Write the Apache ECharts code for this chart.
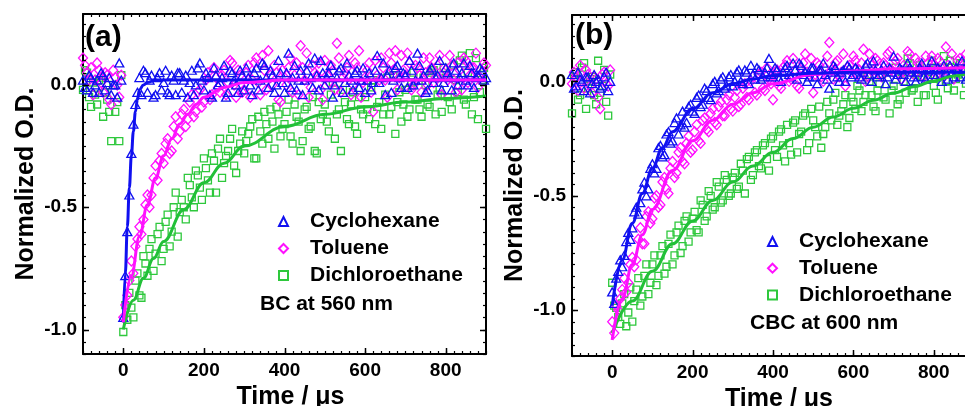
<!DOCTYPE html>
<html><head><meta charset="utf-8">
<script src="https://cdn.jsdelivr.net/npm/echarts@6/dist/echarts.min.js"></script>
<style>html,body{margin:0;padding:0;background:#fff}#c{width:965px;height:406px}</style>
</head><body><div id="c"></div>
<script>
// ---------- data ----------
const times = [-100,-90,-80,-70,-60,-50,-40,-30,-20,-10,
  0,10,20,30,40,50,60,70,80,90,100,110,120,130,140,150,160,170,180,190,
  200,210,220,230,240,250,260,270,280,290,300,310,320,330,340,350,360,370,380,390,
  400,410,420,430,440,450,460,470,480,490,500,510,520,530,540,550,560,570,580,590,
  600,610,620,630,640,650,660,670,680,690,700,710,720,730,740,750,760,770,780,790,
  800,810,820,830,840,850,860,870,880,890,900];
const timesMid = [-95,-85,-75,-65,-55,-45,-35,-25,-15,-5,
  5,15,25,35,45,55,65,75,85,95,105,115,125,135,145,155,165,175,185,195,
  205,215,225,235,245,255,265,275,285,295,305,315,325,335,345,355,365,375,385,395,
  405,415,425,435,445,455,465,475,485,495,505,515,525,535,545,555,565,575,585,595,
  605,615,625,635,645,655,665,675,685,695,705,715,725,735,745,755,765,775,785,795,
  805,815,825,835,845,855,865,875,885,895];

const xTickLabels = [0,200,400,600,800];
const yTickLabels = [-1.0,-0.5,0.0];
const seriesNames = ['Cyclohexane','Toluene','Dichloroethane'];

// Panel (a): BC at 560 nm
const cycA = [0.02,-0.02,0.03,0.00,-0.03,0.04,0.01,-0.04,0.00,0.09,
  -0.95,-0.60,-0.28,-0.08,0.03,0.06,-0.03,0.04,-0.04,0.05,
  0.01,-0.03,0.04,-0.04,0.05,0.02,-0.05,0.06,0.00,0.09,
  -0.02,0.03,-0.05,0.04,0.01,0.08,-0.03,0.05,0.00,0.06,
  -0.02,0.03,-0.04,0.07,0.02,0.08,-0.01,0.04,0.00,0.05,
  -0.03,0.13,0.03,-0.02,0.06,0.02,0.09,-0.01,0.04,0.10,
  0.00,0.05,-0.05,0.03,0.07,0.01,0.04,-0.02,0.06,0.02,
  -0.03,0.05,0.01,0.12,0.03,-0.04,0.06,0.02,0.08,-0.01,
  0.04,0.10,0.00,0.13,0.02,-0.03,0.06,0.01,0.04,-0.02,
  0.07,0.03,0.09,0.00,0.05,0.02,0.08,-0.01,0.04,0.06,
  0.03];
const cycA2 = [-0.01,0.04,-0.03,0.02,0.05,-0.02,0.03,0.00,-0.05,0.02,
  -0.78,-0.45,-0.16,-0.03,-0.04,0.05,0.02,-0.05,0.03,-0.02,
  0.06,-0.04,0.02,0.05,-0.03,0.04,0.01,-0.04,0.07,0.02,
  0.05,-0.04,0.07,0.00,0.03,-0.05,0.06,0.02,-0.03,0.04,
  0.07,0.00,0.05,-0.02,0.09,0.03,0.06,-0.03,0.10,0.01,
  0.05,-0.01,0.08,0.02,-0.04,0.06,0.03,0.11,-0.02,0.05,
  0.03,0.08,0.00,0.06,-0.03,0.09,0.02,0.05,-0.01,0.07,
  0.02,-0.02,0.06,0.01,0.09,0.04,-0.03,0.07,0.03,0.05,
  -0.01,0.06,0.02,0.08,0.04,-0.02,0.07,0.03,0.10,0.01,
  0.05,-0.02,0.06,0.03,0.09,0.00,0.05,0.03,0.07,0.02];
const tolA = [0.11,0.05,0.07,0.02,0.06,-0.03,0.04,-0.08,0.03,-0.05,
  -0.95,-0.86,-0.72,-0.66,-0.58,-0.55,-0.45,-0.45,-0.33,-0.31,
  -0.32,-0.22,-0.27,-0.13,-0.19,-0.10,-0.14,-0.04,-0.11,-0.02,
  -0.07,0.05,-0.04,0.03,-0.03,0.06,0.01,0.09,-0.05,0.04,
  -0.02,0.08,0.02,0.11,-0.04,0.06,0.14,0.00,0.05,-0.07,
  0.03,0.07,-0.03,0.09,0.16,0.02,-0.05,0.08,0.04,-0.02,
  0.10,0.01,0.06,0.17,-0.03,0.05,0.12,0.00,0.07,-0.05,
  0.03,0.09,-0.11,0.04,0.11,0.02,0.13,0.06,-0.02,0.12,
  0.04,0.09,0.00,0.07,-0.03,0.05,0.11,0.01,0.08,-0.04,
  0.06,0.12,0.02,0.09,-0.02,0.10,0.04,0.07,-0.01,0.05,
  0.08];
const tolA2 = [0.08,0.02,-0.04,0.09,0.01,0.05,-0.06,0.06,0.00,0.04,
  -0.90,-0.80,-0.77,-0.63,-0.61,-0.49,-0.50,-0.38,-0.39,-0.28,
  -0.24,-0.28,-0.17,-0.22,-0.12,-0.17,-0.07,-0.13,-0.03,-0.09,
  0.02,-0.06,0.07,-0.01,0.04,-0.04,0.10,0.00,0.06,-0.03,
  0.05,-0.05,0.09,0.01,0.12,-0.02,0.04,0.08,-0.06,0.06,
  0.00,0.11,0.04,-0.04,0.07,0.13,-0.01,0.05,0.09,-0.06,
  0.04,0.08,-0.02,0.11,0.03,0.07,-0.04,0.09,0.14,0.01,
  0.06,-0.03,0.10,0.02,0.07,-0.05,0.09,0.14,0.03,0.06,
  0.13,-0.02,0.08,0.04,0.11,0.00,0.07,0.03,0.12,0.05,
  0.02,0.08,-0.03,0.06,0.11,0.01,0.07,0.13,0.03,0.09];
const dceA = [-0.02,0.05,-0.09,-0.04,0.02,-0.13,-0.06,-0.23,-0.11,-0.23,
  -1.01,-0.96,-0.91,-0.80,-0.86,-0.70,-0.78,-0.63,-0.69,-0.58,
  -0.67,-0.53,-0.60,-0.44,-0.52,-0.50,-0.38,-0.46,-0.35,-0.42,
  -0.30,-0.39,-0.28,-0.44,-0.22,-0.32,-0.27,-0.18,-0.36,-0.24,
  -0.28,-0.20,-0.14,-0.30,-0.19,-0.11,-0.22,-0.15,-0.09,-0.21,
  -0.16,-0.06,-0.24,-0.13,-0.27,-0.10,-0.18,-0.05,-0.28,-0.14,
  -0.08,-0.19,0.01,-0.12,-0.27,-0.07,-0.16,-0.03,-0.20,-0.10,
  -0.05,-0.14,0.02,-0.09,-0.18,-0.04,-0.12,0.04,-0.07,-0.15,
  -0.02,-0.10,0.05,-0.06,-0.13,0.00,-0.09,0.06,-0.04,-0.11,
  0.03,-0.07,0.08,-0.03,0.12,-0.08,0.13,-0.05,-0.14,0.02,
  -0.18];
const dceA2 = [0.06,-0.05,0.01,-0.08,0.03,-0.03,-0.11,0.00,-0.07,0.04,
  -0.90,-0.85,-0.95,-0.77,-0.87,-0.73,-0.67,-0.76,-0.61,-0.72,
  -0.56,-0.66,-0.50,-0.62,-0.47,-0.55,-0.41,-0.50,-0.37,-0.47,
  -0.34,-0.44,-0.31,-0.26,-0.38,-0.29,-0.22,-0.33,-0.27,-0.19,
  -0.23,-0.17,-0.30,-0.13,-0.24,-0.16,-0.10,-0.26,-0.12,-0.18,
  -0.11,-0.21,-0.08,-0.15,-0.23,-0.09,-0.17,-0.27,-0.07,-0.12,
  -0.15,-0.04,-0.22,-0.10,-0.02,-0.14,-0.08,-0.17,-0.05,-0.12,
  -0.10,-0.01,-0.16,-0.07,-0.12,0.03,-0.09,-0.20,-0.03,-0.08,
  -0.13,0.01,-0.06,-0.10,0.03,-0.08,0.05,-0.12,-0.02,0.07,
  -0.05,-0.10,0.02,0.10,-0.06,0.05,-0.12,0.11,-0.03,0.07];

// fit curves (a)
const fitCycAT = [0,5,10,15,20,25,30,35,40,50,60,80,100,200,900];
const fitCycAY = [-0.97,-0.77,-0.58,-0.42,-0.29,-0.19,-0.11,-0.06,-0.02,0.00,0.01,0.02,0.02,0.02,0.02];
const fitTolAT = [0,20,40,60,80,100,120,140,160,180,200,250,300,400,600,900];
const fitTolAY = [-0.97,-0.78,-0.62,-0.49,-0.38,-0.29,-0.22,-0.16,-0.12,-0.08,-0.05,-0.01,0.01,0.02,0.02,0.02];
const fitDceAT = [0,25,50,75,100,150,200,250,300,400,500,600,700,800,900];
const fitDceAY = [-1.0,-0.88,-0.79,-0.71,-0.64,-0.51,-0.40,-0.32,-0.25,-0.17,-0.12,-0.09,-0.07,-0.055,-0.045];

// Panel (b): CBC at 600 nm
const cycB = [0.03,-0.02,0.01,-0.04,0.02,-0.01,0.00,-0.03,0.02,-0.04,
  -0.92,-0.86,-0.78,-0.76,-0.66,-0.64,-0.55,-0.53,-0.44,-0.47,
  -0.36,-0.38,-0.28,-0.32,-0.22,-0.26,-0.16,-0.19,-0.20,-0.11,
  -0.13,-0.07,-0.11,-0.03,-0.07,-0.01,-0.05,0.01,-0.03,0.02,
  -0.02,0.04,0.00,0.05,-0.01,0.03,0.06,0.01,0.04,0.10,
  0.02,0.05,0.00,0.06,0.03,0.08,0.01,0.07,0.04,0.02,
  0.06,-0.01,0.05,0.03,-0.03,0.07,0.02,0.04,0.00,0.06,
  0.03,0.05,0.01,0.07,0.03,0.09,0.02,0.05,-0.01,0.06,
  0.11,0.03,0.05,0.00,0.06,0.02,0.04,0.08,0.01,0.05,
  0.03,0.06,0.00,0.04,0.07,0.02,0.05,0.09,0.01,0.04,
  0.06];
const cycB2 = [-0.03,0.04,0.00,0.02,-0.05,0.03,0.01,-0.02,0.04,0.00,
  -0.97,-0.83,-0.81,-0.70,-0.69,-0.57,-0.58,-0.47,-0.50,-0.38,
  -0.40,-0.29,-0.33,-0.23,-0.27,-0.18,-0.23,-0.13,-0.18,-0.10,
  -0.14,-0.06,-0.10,-0.04,-0.08,0.00,-0.04,0.02,-0.02,0.03,
  0.00,0.05,-0.01,0.04,0.07,0.01,0.05,0.02,0.06,0.03,
  0.06,0.01,0.04,0.07,0.02,0.05,0.08,0.03,0.00,0.06,
  0.02,0.05,0.08,0.01,0.04,0.06,0.00,0.05,0.07,0.02,
  0.06,0.02,0.04,0.08,0.00,0.05,0.03,0.07,0.02,0.04,
  0.01,0.06,0.03,0.08,0.04,0.00,0.06,0.02,0.05,0.09,
  0.02,0.05,0.07,0.01,0.04,0.06,0.02,0.05,0.08,0.03];
const tolB = [-0.01,0.02,0.07,-0.03,0.03,-0.05,0.01,-0.12,0.04,-0.02,
  -1.05,-0.98,-0.95,-0.86,-0.88,-0.77,-0.78,-0.64,-0.71,-0.57,
  -0.60,-0.50,-0.54,-0.42,-0.49,-0.35,-0.40,-0.29,-0.36,-0.24,
  -0.30,-0.19,-0.27,-0.16,-0.22,-0.12,-0.19,-0.09,-0.15,-0.06,
  -0.13,-0.04,-0.10,-0.01,-0.08,0.02,-0.06,0.04,-0.04,0.01,
  -0.08,0.05,-0.03,0.07,0.00,0.10,-0.02,0.06,0.12,0.03,
  -0.05,0.08,0.02,0.06,0.17,0.01,0.09,0.04,-0.02,0.07,
  0.11,0.03,0.08,0.00,0.12,0.05,0.09,0.02,0.07,0.13,
  0.04,0.10,0.01,0.06,0.12,0.03,0.08,0.05,0.11,0.02,
  0.07,0.10,0.04,0.15,0.06,0.01,0.09,0.05,0.12,0.03,
  0.08];
const tolB2 = [0.04,-0.04,0.00,0.05,-0.02,0.02,-0.07,0.03,-0.01,0.05,
  -1.10,-1.00,-0.91,-0.92,-0.80,-0.81,-0.69,-0.71,-0.59,-0.62,
  -0.51,-0.55,-0.44,-0.47,-0.38,-0.42,-0.31,-0.35,-0.27,-0.31,
  -0.22,-0.26,-0.17,-0.21,-0.14,-0.18,-0.11,-0.15,-0.08,-0.12,
  -0.07,-0.11,-0.03,-0.07,0.00,-0.05,0.03,-0.03,0.06,-0.01,
  0.03,-0.02,0.06,0.09,0.01,0.05,-0.03,0.08,0.04,0.10,
  0.03,0.07,0.00,0.11,0.05,0.08,0.02,0.12,0.06,0.04,
  0.09,0.05,0.14,0.02,0.07,0.10,0.03,0.08,0.12,0.05,
  0.09,0.03,0.07,0.13,0.04,0.10,0.06,0.02,0.08,0.11,
  0.05,0.09,0.02,0.07,0.12,0.04,0.10,0.06,0.03,0.09];
const dceB = [-0.14,0.04,-0.06,0.08,-0.03,0.02,-0.10,-0.05,0.05,-0.15,
  -0.88,-0.99,-1.06,-0.93,-1.01,-1.05,-0.91,-0.98,-0.85,-0.93,
  -0.80,-0.89,-0.76,-0.84,-0.71,-0.80,-0.66,-0.75,-0.61,-0.70,
  -0.60,-0.65,-0.52,-0.61,-0.48,-0.56,-0.44,-0.53,-0.41,-0.50,
  -0.42,-0.47,-0.36,-0.49,-0.33,-0.41,-0.30,-0.38,-0.27,-0.39,
  -0.24,-0.33,-0.21,-0.35,-0.27,-0.18,-0.31,-0.22,-0.14,-0.27,
  -0.17,-0.24,-0.29,-0.20,-0.14,-0.08,-0.19,-0.13,-0.06,-0.16,
  -0.09,-0.02,-0.13,-0.06,0.00,-0.11,-0.04,0.03,-0.08,-0.14,
  -0.02,-0.10,0.04,-0.05,0.08,-0.03,-0.09,0.02,-0.06,0.05,
  -0.02,-0.08,0.06,0.00,0.09,-0.04,0.03,0.08,-0.01,0.05,
  0.02];
const dceB2 = [0.02,-0.08,0.06,-0.12,0.01,-0.06,0.09,-0.02,-0.09,0.03,
  -0.98,-1.03,-0.97,-1.07,-0.90,-0.96,-0.86,-0.94,-0.80,-0.88,
  -0.76,-0.85,-0.72,-0.81,-0.67,-0.76,-0.63,-0.72,-0.59,-0.66,
  -0.57,-0.66,-0.54,-0.59,-0.50,-0.55,-0.46,-0.52,-0.43,-0.49,
  -0.40,-0.46,-0.39,-0.34,-0.43,-0.31,-0.37,-0.28,-0.34,-0.25,
  -0.30,-0.22,-0.28,-0.19,-0.32,-0.17,-0.23,-0.15,-0.30,-0.12,
  -0.20,-0.11,-0.23,-0.09,-0.17,-0.05,-0.15,-0.10,-0.20,-0.07,
  -0.12,-0.04,-0.09,0.02,-0.06,-0.13,-0.01,-0.07,0.04,-0.04,
  0.06,-0.08,0.00,0.10,-0.04,0.03,0.07,-0.06,0.01,0.09,
  -0.05,0.03,0.11,-0.03,0.06,0.01,0.08,-0.06,0.04,0.10];

// fit curves (b)
const fitCycBT = [0,25,50,75,100,125,150,200,250,300,350,400,500,600,900];
const fitCycBY = [-0.98,-0.78,-0.62,-0.49,-0.38,-0.29,-0.22,-0.12,-0.05,-0.01,0.01,0.025,0.035,0.04,0.04];
const fitTolBT = [0,25,50,75,100,150,200,250,300,350,400,500,600,700,900];
const fitTolBY = [-1.13,-0.95,-0.80,-0.67,-0.56,-0.39,-0.26,-0.17,-0.10,-0.05,-0.01,0.03,0.045,0.055,0.06];
const fitDceBT = [0,50,100,150,200,250,300,350,400,450,500,550,600,650,700,750,800,850,900];
const fitDceBY = [-1.1,-0.96,-0.83,-0.71,-0.61,-0.52,-0.44,-0.37,-0.31,-0.25,-0.20,-0.156,-0.117,-0.082,-0.051,-0.023,0.002,0.024,0.044];

// ---------- styling ----------
const FONT = '"Liberation Sans", Arial, Helvetica, sans-serif';
const BLUE = '#1010f0', MAG = '#ff10ff', GREEN = '#2ec83c';
const GREEN_LINE = '#22c038';
const pairs = (t, v) => t.map((x, i) => [x, v[i]]);
const both = (t1, v1, t2, v2) => pairs(t1, v1).concat(pairs(t2, v2));

// minor tick positions (axis decoration, not data)
const stepList = (a, b, s) => { const r = []; for (let k = 0; a + k * s <= b + 1e-9; k++) r.push(+(a + k * s).toFixed(3)); return r; };
const xMinorTicks = stepList(-100, 900, 20);

function xAxisCfg(gi) {
  return {gridIndex: gi, type: 'value', min: -100, max: 900, position: 'bottom', splitLine: {show: false},
    axisLine: {show: true, onZero: false, lineStyle: {color: '#000', width: 2}},
    axisTick: {show: false},
    axisLabel: {show: true, customValues: xTickLabels, margin: 7, color: '#000',
      fontSize: 19, fontWeight: 'bold', fontFamily: FONT},
    name: 'Time / μs', nameLocation: 'middle', nameGap: 24,
    nameTextStyle: {fontSize: 25, fontWeight: 'bold', fontFamily: FONT, color: '#000', padding: [0, 0, 0, 12]}};
}
function xTopCfg(gi) {
  return {gridIndex: gi, type: 'value', min: -100, max: 900, position: 'top', splitLine: {show: false},
    axisLine: {show: true, onZero: false, lineStyle: {color: '#000', width: 2}},
    axisTick: {show: false}, axisLabel: {show: false}};
}
function yAxisCfg(gi, ymin, ymax) {
  return {gridIndex: gi, type: 'value', min: ymin, max: ymax, position: 'left', splitLine: {show: false},
    axisLine: {show: true, onZero: false, lineStyle: {color: '#000', width: 2}},
    axisTick: {show: false},
    axisLabel: {show: true, customValues: yTickLabels, margin: 6, color: '#000',
      fontSize: 19, fontWeight: 'bold', fontFamily: FONT, formatter: v => Number(v).toFixed(1)},
    name: 'Normalized O.D.', nameLocation: 'middle', nameGap: 44,
    nameTextStyle: {fontSize: 25, fontWeight: 'bold', fontFamily: FONT, color: '#000'}};
}
function yRightCfg(gi, ymin, ymax) {
  return {gridIndex: gi, type: 'value', min: ymin, max: ymax, position: 'right', splitLine: {show: false},
    axisLine: {show: true, onZero: false, lineStyle: {color: '#000', width: 2}},
    axisTick: {show: false}, axisLabel: {show: false}};
}

// tick marks drawn inside the frame, positioned through the axes' scales
function ticks(axisIdx, orient, values, len, lw, ymin) {
  return {type: 'custom', xAxisIndex: axisIdx, yAxisIndex: axisIdx, silent: true, clip: false, z: 20,
    data: values.map(v => orient === 'x' ? [v, ymin] : [-100, v]),
    renderItem: (params, api) => {
      const cs = params.coordSys;
      const p = api.coord([api.value(0), api.value(1)]);
      const style = {stroke: '#000', lineWidth: lw};
      if (orient === 'x') {
        const x = Math.round(p[0]) + 0.5, yb = cs.y + cs.height, yt = cs.y;
        return {type: 'group', children: [
          {type: 'line', shape: {x1: x, y1: yb, x2: x, y2: yb - len}, style},
          {type: 'line', shape: {x1: x, y1: yt, x2: x, y2: yt + len}, style}]};
      }
      const y = Math.round(p[1]) + 0.5, xl = cs.x, xr = cs.x + cs.width;
      return {type: 'group', children: [
        {type: 'line', shape: {x1: xl, y1: y, x2: xl + len, y2: y}, style},
        {type: 'line', shape: {x1: xr, y1: y, x2: xr - len, y2: y}, style}]};
    }};
}

function scatter(name, axisIdx, data, symbol, size, color) {
  return {type: 'scatter', name, xAxisIndex: axisIdx, yAxisIndex: axisIdx, data,
    symbol, symbolSize: size, z: 2,
    itemStyle: {color: 'rgba(255,255,255,0)', borderColor: color, borderWidth: 1.3, opacity: 1},
    emphasis: {disabled: true}};
}
function fit(name, axisIdx, data, color) {
  return {type: 'line', name, xAxisIndex: axisIdx, yAxisIndex: axisIdx, data,
    showSymbol: false, smooth: 0.4, smoothMonotone: 'x', z: 5,
    lineStyle: {color, width: 3}, emphasis: {disabled: true}};
}
function legend(left, top, gap) {
  return {left, top, orient: 'vertical', padding: 0, itemGap: gap, itemWidth: 9, itemHeight: 9,
    selectedMode: false, data: seriesNames,
    textStyle: {fontSize: 21, lineHeight: 21, fontWeight: 'bold', fontFamily: FONT, color: '#000', padding: [0, 0, 0, 17]}};
}

const yMinorA = stepList(-1.1, 0.29, 0.05);
const yMinorB = stepList(-1.2, 0.29, 0.05);

const option = {
  animation: false,
  backgroundColor: '#fff',
  grid: [
    {left: 83, top: 14, width: 403, height: 340, containLabel: false, outerBoundsMode: 'none'},
    {left: 572, top: 15, width: 402, height: 341, containLabel: false, outerBoundsMode: 'none'}
  ],
  xAxis: [xAxisCfg(0), xTopCfg(0), xAxisCfg(1), xTopCfg(1)],
  yAxis: [yAxisCfg(0, -1.1, 0.29), yRightCfg(0, -1.1, 0.29), yAxisCfg(1, -1.2, 0.29), yRightCfg(1, -1.2, 0.29)],
  legend: [legend(278, 211, 6), legend(767, 231, 5.7)],
  graphic: [
    {type: 'text', x: 85, y: 38, style: {text: '(a)', font: 'bold 30px ' + FONT, fill: '#000', verticalAlign: 'middle'}},
    {type: 'text', x: 260, y: 304, style: {text: 'BC at 560 nm', font: 'bold 21px ' + FONT, fill: '#000', verticalAlign: 'middle'}},
    {type: 'text', x: 575, y: 36, style: {text: '(b)', font: 'bold 30px ' + FONT, fill: '#000', verticalAlign: 'middle'}},
    {type: 'text', x: 750, y: 323, style: {text: 'CBC at 600 nm', font: 'bold 21px ' + FONT, fill: '#000', verticalAlign: 'middle'}}
  ],
  series: [
    scatter('Dichloroethane', 0, both(times, dceA, timesMid, dceA2), 'rect', [7, 7], GREEN),
    scatter('Toluene', 0, both(times, tolA, timesMid, tolA2), 'diamond', [9, 10], MAG),
    scatter('Cyclohexane', 0, both(times, cycA, timesMid, cycA2), 'triangle', [9, 8], BLUE),
    fit('Dichloroethane fit', 0, pairs(fitDceAT, fitDceAY), GREEN_LINE),
    fit('Cyclohexane fit', 0, pairs(fitCycAT, fitCycAY), BLUE),
    fit('Toluene fit', 0, pairs(fitTolAT, fitTolAY), MAG),
    scatter('Dichloroethane', 2, both(times, dceB, timesMid, dceB2), 'rect', [7, 7], GREEN),
    scatter('Toluene', 2, both(times, tolB, timesMid, tolB2), 'diamond', [9, 10], MAG),
    scatter('Cyclohexane', 2, both(times, cycB, timesMid, cycB2), 'triangle', [9, 8], BLUE),
    fit('Dichloroethane fit', 2, pairs(fitDceBT, fitDceBY), GREEN_LINE),
    fit('Toluene fit', 2, pairs(fitTolBT, fitTolBY), MAG),
    fit('Cyclohexane fit', 2, pairs(fitCycBT, fitCycBY), BLUE),
    ticks(0, 'x', xMinorTicks, 3, 1.2, -1.1),
    ticks(0, 'x', xTickLabels, 6, 1.5, -1.1),
    ticks(0, 'y', yMinorA, 3, 1.2),
    ticks(0, 'y', yTickLabels, 6, 1.5),
    ticks(2, 'x', xMinorTicks, 3, 1.2, -1.2),
    ticks(2, 'x', xTickLabels, 6, 1.5, -1.2),
    ticks(2, 'y', yMinorB, 3, 1.2),
    ticks(2, 'y', yTickLabels, 6, 1.5)
  ]
};
const chart = echarts.init(document.getElementById('c'), null, {renderer: 'canvas'});
chart.setOption(option);
</script>
</body></html>
